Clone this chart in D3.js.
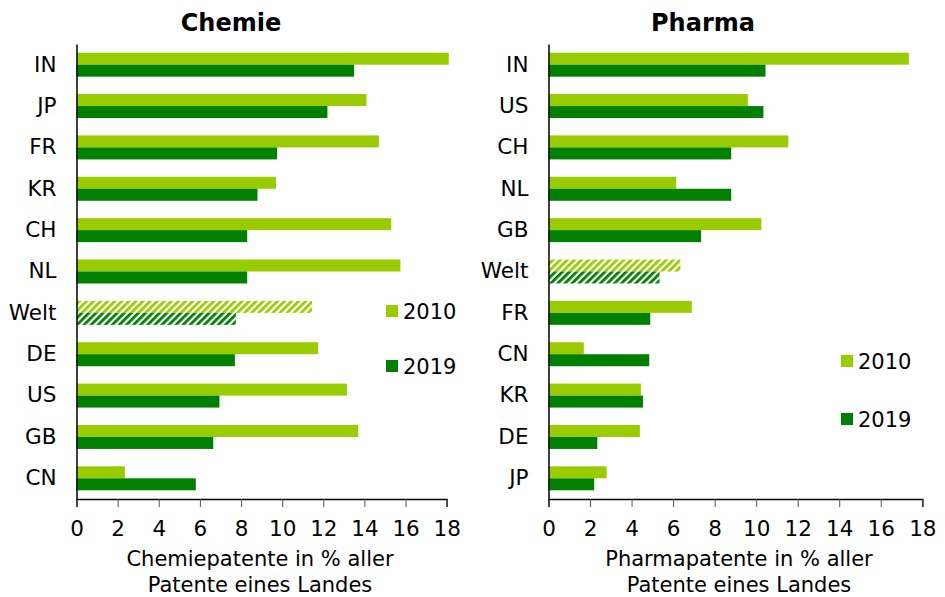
<!DOCTYPE html>
<html>
<head>
<meta charset="utf-8">
<script src="https://cdn.jsdelivr.net/npm/d3@7"></script>
<style>
  body { margin: 0; background: #fff; }
  text { font-family: Verdana, "DejaVu Sans", sans-serif; fill: #000; }
</style>
</head>
<body>
<svg id="chart" width="945" height="597"></svg>
<script>
// ---- data ----
var years = ["2010", "2019"];
var ticks = [0, 2, 4, 6, 8, 10, 12, 14, 16, 18];

var chemieLand = ["IN", "JP", "FR", "KR", "CH", "NL", "Welt", "DE", "US", "GB", "CN"];
var chemie2010 = [18.1, 14.1, 14.7, 9.7, 15.3, 15.75, 11.45, 11.75, 13.15, 13.7, 2.35];
var chemie2019 = [13.5, 12.2, 9.75, 8.8, 8.3, 8.3, 7.75, 7.7, 6.95, 6.65, 5.8];

var pharmaLand = ["IN", "US", "CH", "NL", "GB", "Welt", "FR", "CN", "KR", "DE", "JP"];
var pharma2010 = [17.35, 9.6, 11.55, 6.15, 10.25, 6.35, 6.9, 1.7, 4.45, 4.4, 2.8];
var pharma2019 = [10.45, 10.35, 8.8, 8.8, 7.35, 5.35, 4.9, 4.85, 4.55, 2.35, 2.2];

var colors = { "2010": "#99cc00", "2019": "#008000" };

var svg = d3.select("#chart");

// hatch patterns for "Welt"
var defs = svg.append("defs");
years.forEach(function(y) {
  var p = defs.append("pattern")
    .attr("id", "hatch" + y)
    .attr("patternUnits", "userSpaceOnUse")
    .attr("width", 5).attr("height", 5)
    .attr("patternTransform", "rotate(45)");
  p.append("rect").attr("width", 5).attr("height", 5).attr("fill", "#fff");
  p.append("rect").attr("width", 2.8).attr("height", 5).attr("fill", colors[y]);
});

function panel(opts) {

  var g = svg.append("g");

  var x = d3.scaleLinear().domain([0, 18]).range([opts.x0, opts.x1]);
  var y = d3.scaleBand().domain(opts.land).range([44, 499]).paddingInner(0.42).paddingOuter(0.21);
  var sub = d3.scaleBand().domain(years).range([0, y.bandwidth()]);

  var rows = opts.land.map(function(l, i) {
    return { land: l, "2010": opts.v2010[i], "2019": opts.v2019[i] };
  });

  // bars
  var rowG = g.selectAll("g.row").data(rows).enter().append("g")
    .attr("class", "row")
    .attr("transform", function(d) { return "translate(0," + y(d.land) + ")"; });

  rowG.selectAll("rect").data(function(d) {
      return years.map(function(yr) { return { land: d.land, year: yr, v: d[yr] }; });
    }).enter().append("rect")
    .attr("x", x(0))
    .attr("y", function(d) { return sub(d.year); })
    .attr("width", function(d) { return x(d.v) - x(0); })
    .attr("height", sub.bandwidth())
    .attr("fill", function(d) { return d.land == "Welt" ? "url(#hatch" + d.year + ")" : colors[d.year]; });

  // x axis
  var xa = g.append("g").attr("transform", "translate(0,499)")
    .call(d3.axisBottom(x).tickValues(ticks).tickSize(8).tickPadding(14).tickFormat(d3.format("d")));
  xa.select(".domain").attr("stroke", "#000").attr("stroke-width", 1.5);
  xa.selectAll(".tick line").attr("stroke", "#555");
  xa.selectAll("text").style("font-size", "21.5px").style("font-family", null);

  // y axis
  var ya = g.append("g").attr("transform", "translate(" + x(0) + ",0)")
    .call(d3.axisLeft(y).tickSize(0).tickPadding(20));
  ya.select(".domain").attr("stroke", "#000").attr("stroke-width", 1.5);
  ya.selectAll("text").style("font-size", "21.5px").style("font-family", null);

  // title
  g.append("text").attr("x", opts.titleX).attr("y", 31)
    .attr("text-anchor", "middle")
    .style("font-size", "24px").style("font-weight", "bold")
    .text(opts.title);

  // axis title
  var at = g.append("text").attr("text-anchor", "middle").style("font-size", "21px");
  at.append("tspan").attr("x", opts.axisTitleX).attr("y", 566).text(opts.axisTitle[0]);
  at.append("tspan").attr("x", opts.axisTitleX).attr("y", 592).text(opts.axisTitle[1]);

  // legend
  years.forEach(function(yr, i) {
    var ly = opts.legendY[i];
    g.append("rect").attr("x", opts.legendX).attr("y", ly - 6).attr("width", 12).attr("height", 12)
      .attr("fill", colors[yr]);
    g.append("text").attr("x", opts.legendX + 17).attr("y", ly + 8)
      .style("font-size", "21px").text(yr);
  });
}

panel({
  title: "Chemie", titleX: 231,
  land: chemieLand, v2010: chemie2010, v2019: chemie2019,
  x0: 76.5, x1: 446.7, axisTitleX: 260,
  axisTitle: ["Chemiepatente in % aller", "Patente eines Landes"],
  legendX: 386, legendY: [311, 366]
});

panel({
  title: "Pharma", titleX: 703,
  land: pharmaLand, v2010: pharma2010, v2019: pharma2019,
  x0: 548.5, x1: 922.3, axisTitleX: 739,
  axisTitle: ["Pharmapatente in % aller", "Patente eines Landes"],
  legendX: 841, legendY: [361, 419]
});
</script>
</body>
</html>
